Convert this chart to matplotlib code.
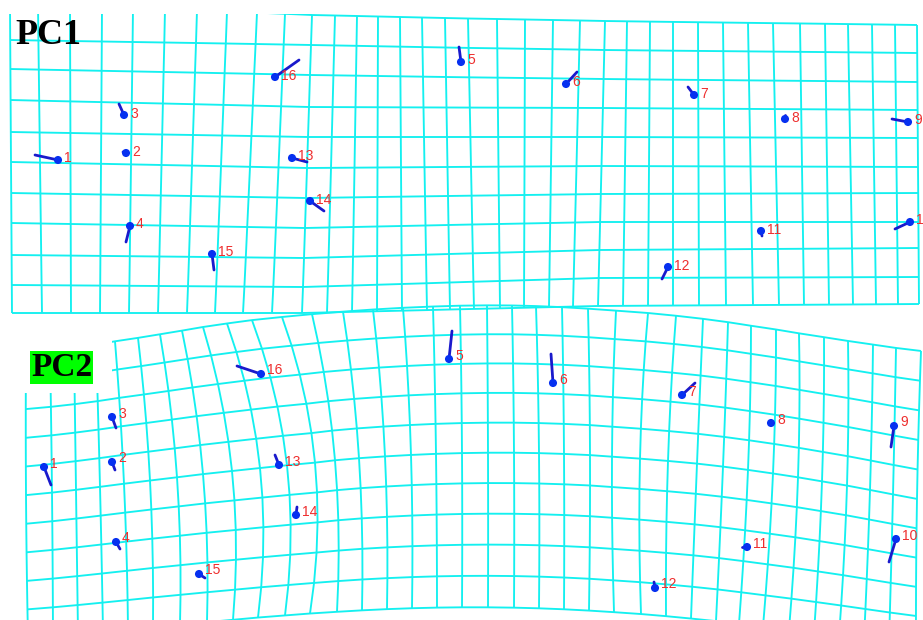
import numpy as np
import matplotlib
matplotlib.use('Agg')
import matplotlib.pyplot as plt
from matplotlib.collections import LineCollection
from matplotlib.patches import Rectangle

W, H = 923, 620

# ---- PC1 deformation grid (pixel coords) ----
# x of each column line along the top and the bottom edge
pc1_col_top = [10, 38, 70, 102, 133, 165, 197, 227, 257, 285,
               312, 335, 357, 378, 400, 422, 445, 468, 497, 525,
               553, 580, 605, 627, 650, 673, 698, 723, 748, 773,
               800, 825, 848, 872, 895, 917]
pc1_col_bot = [12, 42, 71, 100, 129, 158, 187, 215, 243, 272,
               302, 327, 352, 377, 402, 427, 450, 474, 500, 524,
               549, 573, 598, 623, 648, 673, 699, 726, 753, 779,
               804, 829, 853, 876, 898, 919]
# y of the 11 row lines, read at a few columns
pc1_station_cols = [0, 10, 22, 35]
pc1_row_y = [
    [3, 40, 69, 100, 132, 162, 193, 223, 255, 285, 313],
    [15, 45, 75, 107, 137, 168, 198, 228, 258, 287, 313],
    [21, 50, 79, 108, 137, 166, 194, 222, 250, 278, 306],
    [25, 53, 82, 110, 138, 167, 193, 222, 248, 277, 304],
]

# ---- PC2 deformation grid ----
pc2_col_top = [26, 50, 74, 96, 115, 138, 160, 182, 203, 227,
               252, 282, 312, 343, 373, 403, 433, 460, 487, 512,
               536, 562, 588, 616, 648, 676, 703, 728, 751, 776,
               799, 824, 848, 873, 896, 921]
pc2_col_mid = [26, 52, 76, 100, 124, 150, 177, 203, 232, 260,
               287, 315, 335, 359, 385, 411, 436, 462, 488, 514,
               539, 564, 590, 612, 640, 668, 697, 723, 748, 773,
               798, 822, 847, 870, 893, 917]
pc2_col_bot = [28, 53, 78, 103, 128, 153, 180, 207, 233, 258,
               285, 310, 337, 362, 387, 412, 437, 462, 488, 514,
               539, 564, 589, 614, 641, 666, 691, 716, 739, 763,
               789, 814, 839, 864, 889, 916]
pc2_station_cols = [0, 4, 10, 17, 24, 30, 35]
pc2_row_top = [352, 340, 322, 304, 314, 333, 351]
pc2_row_mid = [495, 484, 465, 453, 459, 477, 499]
pc2_row_bot = [638, 629, 616, 607, 614, 630, 645]

# ---- landmarks ----
lm_ids = list(range(1, 17))
pc1_x = [58, 126, 124, 130, 461, 566, 694, 785, 908, 910, 761, 668, 292, 310, 212, 275]
pc1_y = [160, 153, 115, 226, 62, 84, 95, 119, 122, 222, 231, 267, 158, 201, 254, 77]
pc1_tip_x = [35, 123, 119, 126, 459, 577, 688, 785, 892, 895, 762, 662, 307, 324, 214, 299]
pc1_tip_y = [155, 152, 104, 242, 47, 72, 87, 115, 119, 229, 236, 279, 162, 211, 270, 60]

pc2_x = [44, 112, 112, 116, 449, 553, 682, 771, 894, 896, 747, 655, 279, 296, 199, 261]
pc2_y = [467, 462, 417, 542, 359, 383, 395, 423, 426, 539, 547, 588, 465, 515, 574, 374]
pc2_tip_x = [51, 115, 116, 120, 452, 551, 695, 772, 891, 889, 742, 654, 275, 297, 205, 237]
pc2_tip_y = [485, 470, 428, 549, 331, 354, 383, 424, 447, 562, 547, 582, 455, 507, 578, 366]

GRID_C = '#14f0f0'
DOT_C = '#0630f0'
VEC_C = '#1a1acc'
LAB_C = '#ee2e2e'


def quad(a, b, c, v):
    # curve through a (v=0), b (v=.5), c (v=1)
    return a * 2 * (v - 0.5) * (v - 1) - b * 4 * v * (v - 1) + c * 2 * v * (v - 0.5)


def grid_pc1():
    top = np.array(pc1_col_top, float)
    bot = np.array(pc1_col_bot, float)
    st = np.array(pc1_row_y, float)
    nrow = st.shape[1]
    ci = np.arange(len(top))
    v = np.linspace(0, 1, nrow)[:, None]
    X = top * (1 - v) + bot * v
    Y = np.array([np.interp(ci, pc1_station_cols, st[:, j]) for j in range(nrow)])
    return X, Y


def grid_pc2(nrow=11):
    ci = np.arange(len(pc2_col_top))
    v = np.linspace(0, 1, nrow)[:, None]
    X = quad(np.array(pc2_col_top, float), np.array(pc2_col_mid, float),
             np.array(pc2_col_bot, float), v)
    rows = [np.polyval(np.polyfit(pc2_station_cols, r, 4), ci)
            for r in (pc2_row_top, pc2_row_mid, pc2_row_bot)]
    Y = quad(rows[0], rows[1], rows[2], v)
    return X, Y


def draw_grid(ax, X, Y, z=1):
    segs = [np.column_stack([X[j], Y[j]]) for j in range(X.shape[0])]
    segs += [np.column_stack([X[:, i], Y[:, i]]) for i in range(X.shape[1])]
    ax.add_collection(LineCollection(segs, colors=GRID_C, linewidths=1.35, zorder=z))


def draw_landmarks(ax, xs, ys, txs, tys, dx, dy):
    vecs = [[(x, y), (tx, ty)] for x, y, tx, ty in zip(xs, ys, txs, tys)]
    ax.add_collection(LineCollection(vecs, colors=VEC_C, linewidths=2.0,
                                     capstyle='round', zorder=4))
    ax.scatter(xs, ys, s=34, color=DOT_C, edgecolors='none', zorder=5)
    for i, x, y in zip(lm_ids, xs, ys):
        ax.text(x + dx, y + dy, str(i), color=LAB_C, fontsize=10,
                family=['Liberation Sans', 'DejaVu Sans'],
                ha='left', va='center', zorder=6)


fig = plt.figure(figsize=(W / 100, H / 100), dpi=100)
ax = fig.add_axes([0, 0, 1, 1])
ax.set_xlim(0, W)
ax.set_ylim(H, 0)
ax.axis('off')

X2, Y2 = grid_pc2()
draw_grid(ax, X2, Y2)
# white patch behind the PC2 label hides the top-left of its grid
ax.add_patch(Rectangle((0, 317), 112, 76, fc='white', ec='none', zorder=2))

X1, Y1 = grid_pc1()
draw_grid(ax, X1, Y1, z=1)
ax.add_patch(Rectangle((0, 0), W, 13.5, fc='white', ec='none', zorder=3))

draw_landmarks(ax, pc1_x, pc1_y, pc1_tip_x, pc1_tip_y, 6, -1.5)
draw_landmarks(ax, pc2_x, pc2_y, pc2_tip_x, pc2_tip_y, 6, -3.5)

ax.text(15, 44, 'PC1', fontsize=26, fontweight='bold',
        family=['Liberation Serif', 'DejaVu Serif'], color='black',
        va='baseline', ha='left', zorder=7)
ax.text(31, 376, 'PC2', fontsize=24, fontweight='bold',
        family=['Liberation Serif', 'DejaVu Serif'], color='black',
        va='baseline', ha='left', zorder=7,
        bbox=dict(boxstyle='square,pad=0.03', fc='#00ff00', ec='none'))

fig.savefig('out.png', dpi=100)
